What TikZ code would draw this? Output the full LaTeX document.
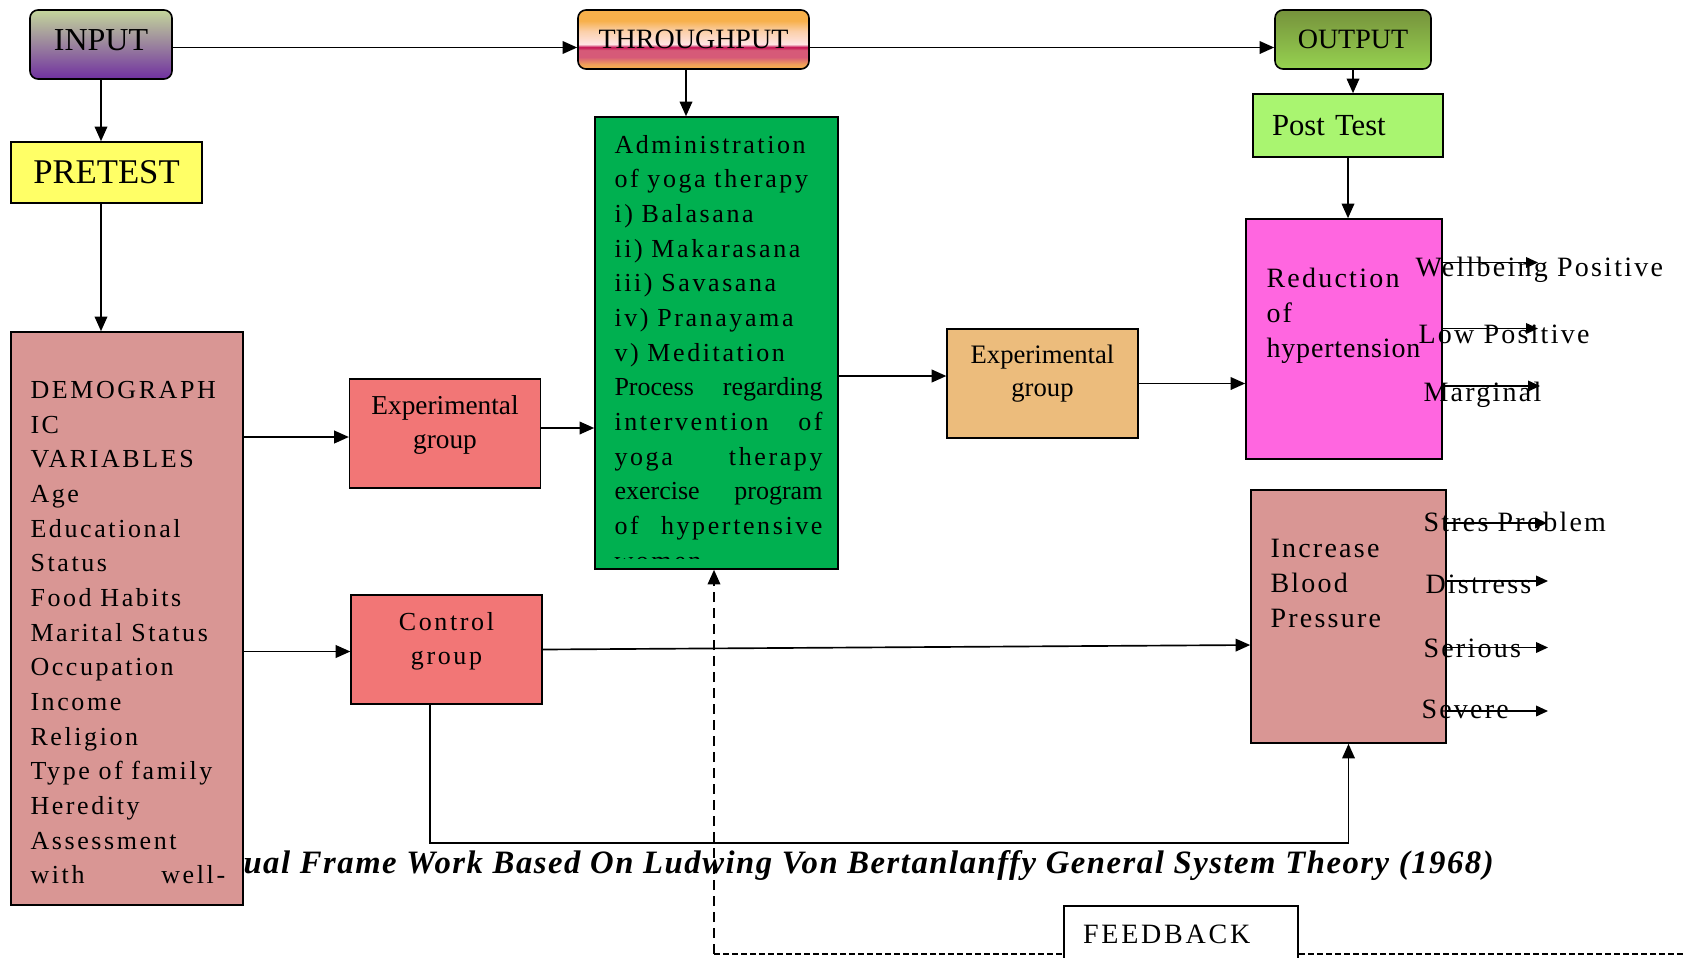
\documentclass[tikz,border=0pt]{standalone}
\usepackage{fontspec}
\setmainfont{Liberation Serif}
\newfontfamily\plainfont{Liberation Serif}
\newfontfamily\spacedfont[LetterSpace=10]{Liberation Serif}
\newfontfamily\outfont[LetterSpace=8]{Liberation Serif}
\newfontfamily\tightfont[LetterSpace=3]{Liberation Serif}
\newfontfamily\capfont[LetterSpace=4.7]{Liberation Serif}
\usetikzlibrary{arrows.meta,calc}

\definecolor{inTop}{RGB}{196,214,155}
\definecolor{inBot}{RGB}{112,48,160}
\definecolor{outTop}{RGB}{118,146,60}
\definecolor{outBot}{RGB}{150,210,80}
\definecolor{preYellow}{RGB}{255,255,102}
\definecolor{demoRose}{RGB}{217,150,148}
\definecolor{groupRed}{RGB}{242,118,118}
\definecolor{yogaGreen}{RGB}{0,176,80}
\definecolor{expOrange}{RGB}{236,188,124}
\definecolor{postGreen}{RGB}{169,245,112}
\definecolor{pinkBox}{RGB}{255,102,224}
\definecolor{tpOrange}{RGB}{247,176,75}
\definecolor{tpPeach}{RGB}{251,208,170}
\definecolor{tpPale}{RGB}{255,228,228}
\definecolor{tpCrimson}{RGB}{196,16,82}
\definecolor{tpRose}{RGB}{214,90,120}
\definecolor{tpLow}{RGB}{240,160,90}

\pgfdeclareverticalshading{throughshade}{100bp}{color(0bp)=(tpOrange); color(25bp)=(tpOrange); color(29bp)=(tpLow); color(35bp)=(tpRose); color(41bp)=(tpRose); color(43.5bp)=(tpCrimson); color(46bp)=(tpPale); color(57bp)=(tpPeach); color(66bp)=(tpOrange); color(75bp)=(tpOrange); color(100bp)=(tpOrange)}

\tikzset{every picture/.style={line width=0.75pt}}
\tikzset{
  diabox/.style={draw, line width=1.2pt, inner sep=0pt, align=center},
  topbox/.style={diabox, rounded corners=6pt, font=\fontsize{21pt}{25pt}\selectfont},
  groupbox/.style={diabox, minimum width=143pt, minimum height=81.75pt},
  bodytext/.style={inner sep=0pt, anchor=base west, align=left, font=\spacedfont\fontsize{19.5pt}{26pt}\selectfont},
  outtext/.style={inner sep=0pt, anchor=base west, align=left, font=\outfont\fontsize{21pt}{26.25pt}\selectfont},
  arr/.style={-{Triangle[length=11pt,width=9.5pt]}, line width=1.25pt},
  outarr/.style={-{Triangle[length=9pt,width=8pt]}, line width=1.2pt},
  fbdash/.style={line width=1.1pt, dash pattern=on 7.5pt off 4.5pt},
  fbdot/.style={line width=1.6pt, dash pattern=on 4.5pt off 2.25pt},
}

\begin{document}
\begin{tikzpicture}[x=0.75pt,y=0.75pt,yscale=-1,xscale=1]
%set diagram left start at 0, and has height of 957
\useasboundingbox (0,0) rectangle (1684,957);

% Text Node
\node[inner sep=0pt, anchor=base west, font=\capfont\fontsize{24.5pt}{30pt}\selectfont\bfseries\itshape] (caption) at (243,873) {ual Frame Work Based On Ludwing Von Bertanlanffy General System Theory (1968)};

%Shape: Rounded Rect
\node[topbox, top color=inTop, bottom color=inBot, minimum width=106.5pt, minimum height=51.75pt, text depth=6pt, font=\fontsize{24pt}{28pt}\selectfont] (input) at (101,44.5) {INPUT};
%Shape: Rounded Rect
\node[topbox, shading=throughshade, minimum width=173.25pt, minimum height=44.25pt] (through) at (693.5,39.5) {THROUGHPUT};
%Shape: Rounded Rect
\node[topbox, top color=outTop, bottom color=outBot, minimum width=117pt, minimum height=44.25pt] (output) at (1353,39.5) {OUTPUT};

%Shape: Rectangle
\node[diabox, fill=preYellow, minimum width=143.25pt, minimum height=45.75pt, font=\fontsize{26pt}{30pt}\selectfont] (pretest) at (106.5,172.5) {PRETEST};
%Shape: Rectangle
\node[diabox, fill=demoRose, minimum width=174pt, minimum height=429.75pt] (demo) at (127,618.5) {};
\node[bodytext, text width=146pt] (demotext) at (30,398.5) {DEMOGRAPH\\IC\\VARIABLES\\Age\\Educational\\Status\\Food Habits\\Marital Status\\Occupation\\Income\\Religion\\Type of family\\Heredity\\Assessment\\with\hfill well-};

%Shape: Rectangle
\node[groupbox, fill=groupRed, text depth=17pt, font=\fontsize{20.5pt}{25.5pt}\selectfont] (expone) at (445,433.5) {Experimental\\group};
%Shape: Rectangle
\node[groupbox, fill=groupRed, text depth=17pt, font=\spacedfont\fontsize{19.5pt}{25.5pt}\selectfont] (control) at (446.5,649.5) {Control\\group};

%Shape: Rectangle
\node[diabox, fill=yogaGreen, minimum width=182.25pt, minimum height=339pt] (green) at (716.5,343) {};
\begin{scope}
\clip (green.north west) rectangle ($(green.south east)+(0,-11)$);
\node[bodytext, text width=156pt] (greentext) at (614,153) {Administration\\of yoga therapy\\i) Balasana\\ii) Makarasana\\iii) Savasana\\iv) Pranayama\\v) Meditation\\{\plainfont Process\hfill regarding}\\intervention\hfill of\\yoga\hfill therapy\\{\plainfont exercise\hfill program}\\of\hfill hypertensive\\women};
\end{scope}

%Shape: Rectangle
\node[groupbox, fill=expOrange, text depth=19.5pt, font=\fontsize{20pt}{24.75pt}\selectfont] (exptwo) at (1042.5,383.5) {Experimental\\group};

%Shape: Rectangle
\node[diabox, fill=postGreen, minimum width=142.5pt, minimum height=47.25pt, inner xsep=14.25pt, text width=114pt, align=left, font=\fontsize{23pt}{27pt}\selectfont] (post) at (1348,125.5) {Post Test};
%Shape: Rectangle
\node[diabox, fill=pinkBox, minimum width=147pt, minimum height=180pt] (pink) at (1344,339) {};
\node[outtext, text width=130pt] (pinktext) at (1266,287) {Reduction\\of\\{\tightfont hypertension}};
%Shape: Rectangle
\node[diabox, fill=demoRose, minimum width=146.25pt, minimum height=189.75pt] (bp) at (1348.5,616.5) {};
\node[outtext, text width=130pt] (bptext) at (1270,557) {Increase\\Blood\\Pressure};

% Text Node
\node[outtext] (welltxt) at (1415,276) {Wellbeing Positive};
\node[outtext] (lowtxt) at (1418,343) {Low Positive};
\node[outtext] (margtxt) at (1423,401) {Marginal};
\node[outtext] (strestxt) at (1423,531) {Stres Problem};
\node[outtext] (disttxt) at (1425,593) {Distress};
\node[outtext] (sertxt) at (1423,657) {Serious};
\node[outtext] (sevtxt) at (1421,718) {Severe};

\coordinate (wellend) at (1538,262.5);
\coordinate (lowend) at (1538,328.5);
\coordinate (margend) at (1540,386);
\coordinate (stresend) at (1547,523);
\coordinate (distend) at (1548,581);
\coordinate (serend) at (1548,647.5);
\coordinate (sevend) at (1548,711);

%Straight Lines
\draw[outarr] (pink.east |- wellend) -- (wellend);
\draw[outarr] (pink.east |- lowend) -- (lowend);
\draw[outarr] (pink.east |- margend) -- (margend);
\draw[outarr] (bp.east |- stresend) -- (stresend);
\draw[outarr] (bp.east |- distend) -- (distend);
\draw[outarr] (bp.east |- serend) -- (serend);
\draw[outarr] (bp.east |- sevend) -- (sevend);

%Straight Lines
\draw[arr] ($(input.east)+(0,3)$) -- ($(input.east -| through.west)+(0,3)$);
\draw[arr] ($(through.east |- input.east)+(0,3)$) -- ($(output.west |- input.east)+(0,3)$);
\draw[arr] (input.south) -- (input.south |- pretest.north);
\draw[arr] (input.south |- pretest.south) -- (input.south |- demo.north);
\draw[arr] ($(through.south)+(-7.5,0)$) -- ($(through.south |- green.north)+(-7.5,0)$);
\draw[arr] (output.south) -- (output.south |- post.north);
\draw[arr] (post.south) -- (post.south |- pink.north);
\draw[arr] ($(demo.east |- expone.west)+(0,3.5)$) -- ($(expone.west)+(0,3.5)$);
\draw[arr] ($(demo.east |- control.west)+(0,2)$) -- ($(control.west)+(0,2)$);
\draw[arr] ($(expone.east)+(0,-5.5)$) -- ($(expone.east -| green.west)+(0,-5.5)$);
\draw[arr] ($(exptwo.west -| green.east)+(0,-7.5)$) -- ($(exptwo.west)+(0,-7.5)$);
\draw[arr] (exptwo.east) -- (exptwo.east -| pink.west);
\draw[arr] (control.east) -- ($(bp.west)+(0,28.5)$);
\draw[arr] ($(control.south)+(-16.5,0)$) -- ++(0,138) -| (bp.south);

%Feedback loop
\coordinate (fbcorner) at (714,954);
\coordinate (fbend) at (1684,954);
\draw[fbdot] (fbcorner) -- (fbend);
\draw[fbdash, arr] (fbcorner) -- (fbcorner |- green.south);
\node[diabox, fill=white, minimum width=175.5pt, minimum height=42pt, inner xsep=14.25pt, text width=147pt, align=left, font=\spacedfont\fontsize{21pt}{25pt}\selectfont] (feedback) at (1181,934) {FEEDBACK};

\end{tikzpicture}
\end{document}
